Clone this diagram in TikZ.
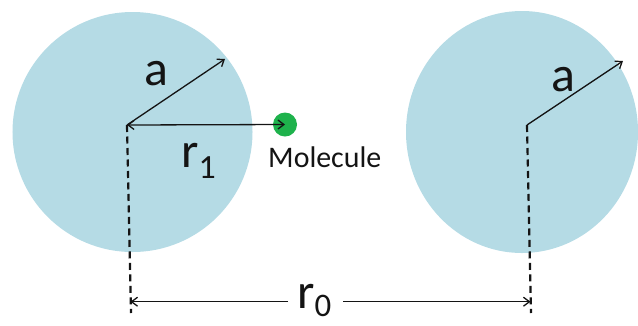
\documentclass[tikz,border=0pt]{standalone}
\usepackage{fontspec}
\setmainfont{Carlito}
\usetikzlibrary{arrows.meta,shapes.geometric}
\definecolor{ballblue}{RGB}{181,219,229}
\definecolor{molgreen}{RGB}{30,178,76}
\definecolor{inkc}{RGB}{20,20,20}
\begin{document}
\begin{tikzpicture}[x=1bp,y=-1bp,
  ball/.style={ellipse,fill=ballblue,draw=none,inner sep=0pt},
  conn/.style={draw=inkc,line width=1.3bp,-{Straight Barb[length=6bp,width=9bp,line width=1.3bp]}},
  bothconn/.style={draw=inkc,line width=1.3bp,{Straight Barb[length=6bp,width=9bp,line width=1.3bp]}-{Straight Barb[length=6bp,width=9bp,line width=1.3bp]}},
  guide/.style={draw=inkc,line width=2.2bp,dash pattern=on 7bp off 4.5bp},
  biglbl/.style={inner sep=0pt,text=inkc,font=\fontsize{50}{50}\selectfont},
  smalllbl/.style={inner sep=0pt,text=inkc,font=\fontsize{30}{30}\selectfont}
]
\useasboundingbox (0,0) rectangle (638,325);
% spheres
\node[ball,minimum width=240bp,minimum height=240bp] (s1) at (132.5,132) {};
\node[ball,minimum width=232bp,minimum height=242bp] (s2) at (522,132) {};
% molecule
\node[circle,fill=molgreen,inner sep=0pt,minimum size=24bp] (mol) at (285,124.5) {};
% reference points
\coordinate (c1) at (127,125);
\coordinate (c2) at (527,125);
\coordinate (e1) at (225,59);
\coordinate (e2) at (623,61);
\coordinate (b1) at (131,313);
\coordinate (b2) at (531,313);
\coordinate (h1) at (130.5,301.7);
\coordinate (h2) at (530.5,301.7);
% labels
\node[biglbl,anchor=base] (a1) at (156.5,85) {a};
\node[biglbl,anchor=base] (a2) at (563,91) {a};
\node[biglbl,anchor=base west] (r1) at (181,167) {r\raisebox{-11bp}{\fontsize{34}{34}\selectfont 1}};
\node[biglbl,anchor=base west] (r0) at (297,308) {r\raisebox{-8bp}{\fontsize{33}{33}\selectfont 0}};
\node[smalllbl,anchor=base west] (moltxt) at (268,167) {Molecule};
\coordinate (r0l) at (288,301.7);
\coordinate (r0r) at (343,301.7);
% connectors
\draw[guide] (c1) -- (b1);
\draw[guide] (c2) -- (b2);
\draw[conn] (c1) -- (e1);
\draw[conn] (c2) -- (e2);
\draw[bothconn] (c1) -- (mol.center);
\draw[conn] (r0l) -- (h1);
\draw[conn] (r0r) -- (h2);
\end{tikzpicture}
\end{document}
